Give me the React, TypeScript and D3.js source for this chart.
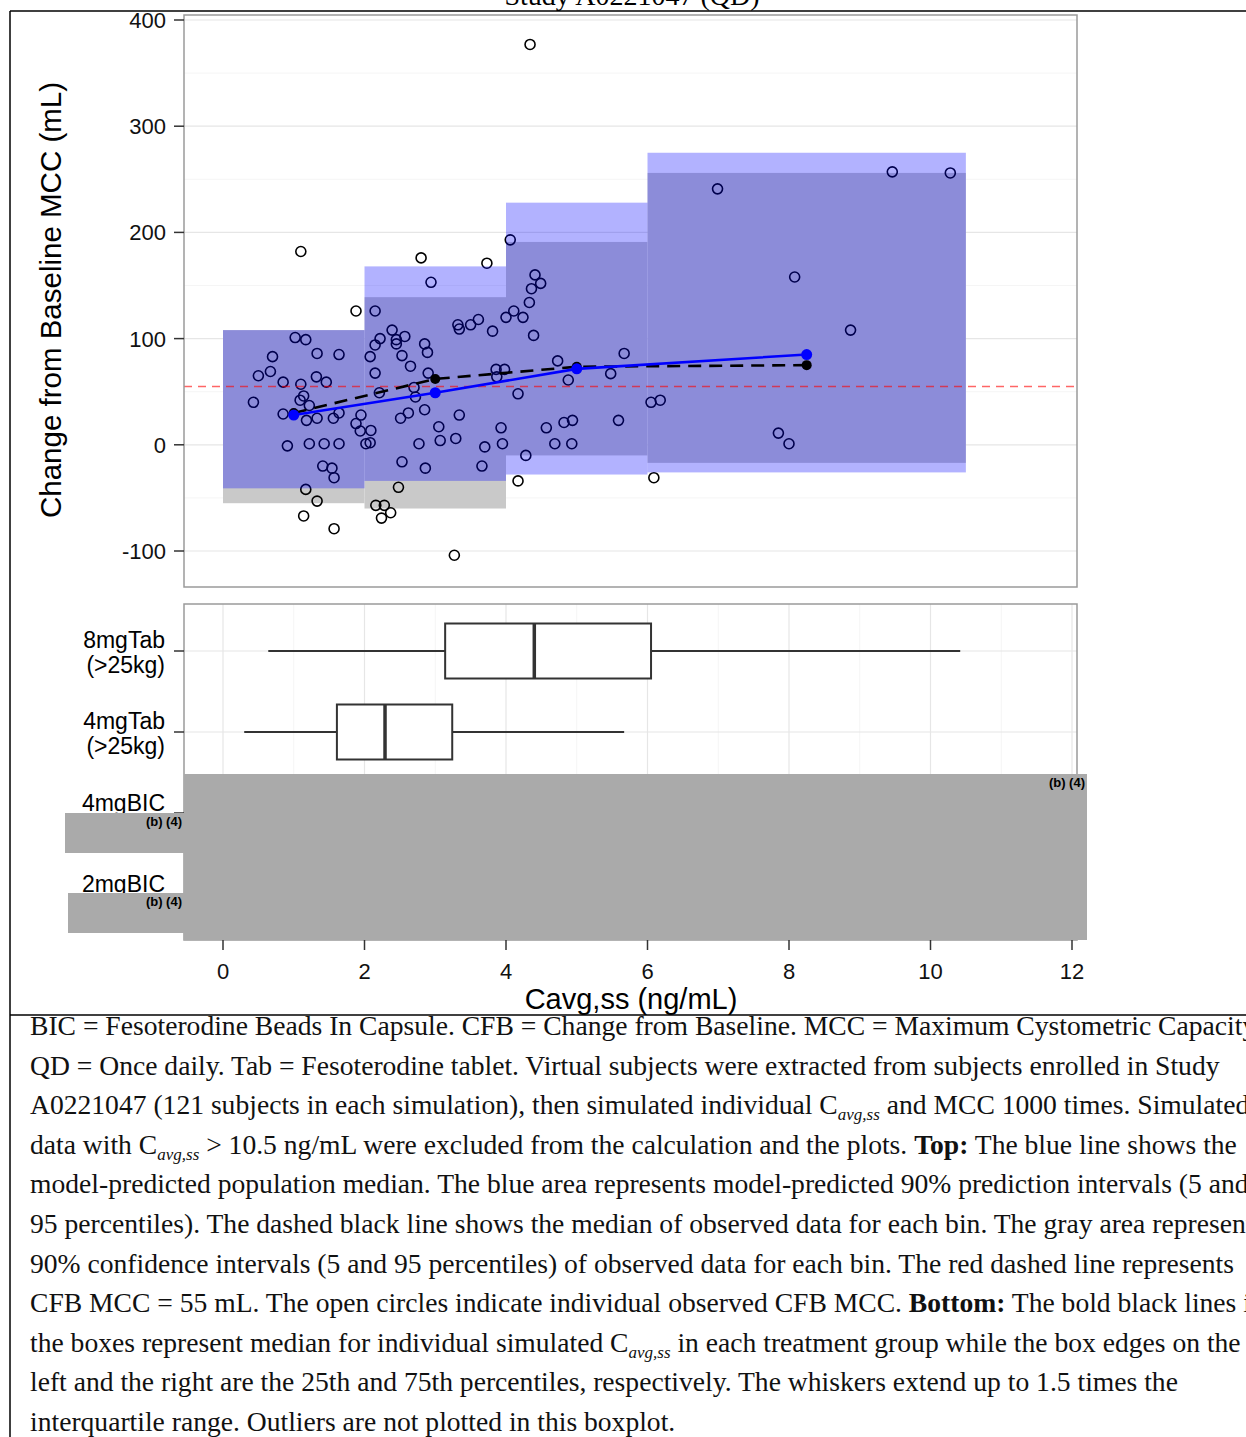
import React from 'react'
import * as d3 from 'd3'

const W = 1246
const H = 1437

// observed change from baseline MCC (mL) against Cavg,ss (ng/mL), one per subject
const obsCavg = [
  0.43, 0.50, 0.67, 0.70, 0.85, 0.85, 0.91, 1.02, 1.17, 1.10, 1.10, 1.14, 1.09, 1.22, 1.18, 1.22,
  1.33, 1.33, 1.32, 1.46, 1.41, 1.54, 1.57, 1.43, 1.56, 1.64, 1.64, 1.64, 1.88, 1.88, 1.94, 1.95,
  2.02, 1.17, 1.33, 1.14, 1.57,
  2.08, 2.09, 2.08, 2.15, 2.15, 2.15, 2.21, 2.22, 2.39, 2.45, 2.45, 2.57, 2.53, 2.85, 2.89, 2.65,
  2.90, 2.70, 2.72, 2.51, 2.62, 2.85, 3.34, 3.05, 2.77, 3.07, 3.29, 2.53, 2.86, 3.66, 3.70, 3.93,
  3.95, 3.86, 3.98, 3.87, 3.32, 3.34, 3.50, 3.61, 3.81, 2.80, 3.73, 2.94, 2.48, 2.16, 2.28, 2.37,
  2.24, 3.27,
  4.00, 4.06, 4.11, 4.24, 4.33, 4.36, 4.49, 4.41, 4.34, 4.39, 4.73, 4.88, 4.17, 4.57, 4.82, 4.94,
  5.59, 4.69, 4.93, 4.28, 4.17, 5.67, 5.48,
  6.05, 6.18, 6.09, 6.99, 9.46, 10.28, 8.08, 8.87, 7.85, 8.0,
]
const obsCfb = [
  40, 65, 69, 83, 59, 29, -1, 101, 99, 182, 57, 46, 42, 37, 23, 1,
  25, 86, 64, 59, -20, -22, -31, 1, 25, 30, 85, 1, 126, 20, 13, 28,
  1, -42, -53, -67, -79,
  83, 13.5, 2, 126, 94, 67.5, 49, 100, 108, 99, 95, 102, 84, 95, 87, 74,
  67.5, 54, 45, 25, 30, 33, 28, 17, 1, 4, 6, -16, -22, -20, -2, 16,
  1, 71, 71, 64, 113, 109, 113, 118, 107, 176, 171, 153, -40, -57, -57, -64,
  -69, -104,
  120, 193, 126, 120, 134, 147, 152, 160, 377, 103, 79, 61, 48, 16, 21, 23,
  23, 1, 1, -10, -34, 86, 67,
  40, 42, -31, 241, 257, 256, 158, 108, 11, 1,
]

const binEdges = [0, 2, 4, 6, 10.5]
const piLow = [-41, -34, -28, -26]
const piHigh = [108, 168, 228, 275]
const ciLow = [-55, -60, -10, -17]
const ciHigh = [108, 139, 191, 256]
const binMid = [1.0, 3.0, 5.0, 8.25]
const predMedian = [28, 49, 71.5, 85]
const obsMedian = [30, 62, 73.5, 75]
const refCfb = 55

const groups = ['8mgTab', '4mgTab', '4mgBIC', '2mgBIC']
const groupSub = ['(>25kg)', '(>25kg)', '', '']
const boxLow = [0.64, 0.30]
const boxQ1 = [3.14, 1.61]
const boxMed = [4.40, 2.29]
const boxQ3 = [6.05, 3.24]
const boxHigh = [10.42, 5.67]

const yTicks = [-100, 0, 100, 200, 300, 400]
const xTicks = [0, 2, 4, 6, 8, 10, 12]

const caption = [
  [['BIC = Fesoterodine Beads In Capsule. CFB = Change from Baseline. MCC = Maximum Cystometric Capacity.', 'n']],
  [['QD = Once daily. Tab = Fesoterodine tablet. Virtual subjects were extracted from subjects enrolled in Study', 'n']],
  [['A0221047 (121 subjects in each simulation), then simulated individual C', 'n'], ['avg,ss', 's'], [' and MCC 1000 times. Simulated', 'n']],
  [['data with C', 'n'], ['avg,ss', 's'], [' > 10.5 ng/mL were excluded from the calculation and the plots. ', 'n'], ['Top:', 'b'], [' The blue line shows the', 'n']],
  [['model-predicted population median. The blue area represents model-predicted 90% prediction intervals (5 and', 'n']],
  [['95 percentiles). The dashed black line shows the median of observed data for each bin. The gray area represents', 'n']],
  [['90% confidence intervals (5 and 95 percentiles) of observed data for each bin. The red dashed line represents', 'n']],
  [['CFB MCC = 55 mL. The open circles indicate individual observed CFB MCC. ', 'n'], ['Bottom:', 'b'], [' The bold black lines in', 'n']],
  [['the boxes represent median for individual simulated C', 'n'], ['avg,ss', 's'], [' in each treatment group while the box edges on the', 'n']],
  [['left and the right are the 25th and 75th percentiles, respectively. The whiskers extend up to 1.5 times the', 'n']],
  [['interquartile range. Outliers are not plotted in this boxplot.', 'n']],
]

const sans = 'Liberation Sans, Arial, sans-serif'
const serif = 'Liberation Serif, Times New Roman, serif'

export default function App() {
  // panels
  const top = { l: 184, r: 1077, t: 15, b: 587 }
  const bot = { l: 184, r: 1077, t: 604, b: 940 }

  const x = d3.scaleLinear().domain([0, 12]).range([223, 1072])
  const y = d3.scaleLinear().domain([-100, 400]).range([551, 20])
  const yb = d3.scalePoint().domain(groups).range([651, 894])

  const minorY = d3.range(-100, 401, 50)
  const lineGen = d3.line<number>().x((d, i) => x(binMid[i])).y(d => y(d))

  return (
    <svg width={W} height={H} style={{ position: 'absolute', left: 0, top: 0, background: '#fff' }}>
      {/* title, cut by the page edge */}
      <text x={632} y={5} textAnchor="middle" fontFamily={serif} fontSize={28}>Study A0221047 (QD)</text>

      {/* ---------- top panel ---------- */}
      <g>
        {minorY.map(v => (
          <line key={v} x1={top.l} x2={top.r} y1={y(v)} y2={y(v)}
            stroke={v % 100 === 0 ? '#e6e6e6' : '#f3f3f3'} strokeWidth={v % 100 === 0 ? 1.2 : 0.8} />
        ))}
        {binEdges.slice(0, -1).map((e, i) => (
          <rect key={'ci' + i} x={x(e)} width={x(binEdges[i + 1]) - x(e)}
            y={y(ciHigh[i])} height={y(ciLow[i]) - y(ciHigh[i])} fill="#c9c9c9" />
        ))}
        {obsCavg.map((c, i) => (
          <circle key={'o' + i} cx={x(c)} cy={y(obsCfb[i])} r={5} fill="none" stroke="#000" strokeWidth={1.6} />
        ))}
        {binEdges.slice(0, -1).map((e, i) => (
          <rect key={'pi' + i} x={x(e)} width={x(binEdges[i + 1]) - x(e)}
            y={y(piHigh[i])} height={y(piLow[i]) - y(piHigh[i])} fill="rgba(0,0,255,0.3)" />
        ))}
        <line x1={top.l} x2={top.r} y1={y(refCfb)} y2={y(refCfb)} stroke="rgba(255,0,0,0.6)"
          strokeWidth={1.5} strokeDasharray="8 6" />
        <path d={lineGen(obsMedian) || ''} fill="none" stroke="#000" strokeWidth={2.6} strokeDasharray="13 8" />
        {obsMedian.map((v, i) => <circle key={'om' + i} cx={x(binMid[i])} cy={y(v)} r={5} fill="#000" />)}
        <path d={lineGen(predMedian) || ''} fill="none" stroke="#0000ff" strokeWidth={2.6} />
        {predMedian.map((v, i) => <circle key={'pm' + i} cx={x(binMid[i])} cy={y(v)} r={5.5} fill="#0000ff" />)}

        <rect x={top.l} y={top.t} width={top.r - top.l} height={top.b - top.t} fill="none" stroke="#9a9a9a" strokeWidth={1.5} />
        {yTicks.map(v => (
          <g key={v}>
            <line x1={174} x2={top.l} y1={y(v)} y2={y(v)} stroke="#333" strokeWidth={1.5} />
            <text x={166} y={y(v) + 8} textAnchor="end" fontFamily={sans} fontSize={22} fill="#111">{v}</text>
          </g>
        ))}
        <text transform={`translate(61,${(top.t + top.b) / 2 - 1}) rotate(-90)`} textAnchor="middle"
          fontFamily={sans} fontSize={29.5}>Change from Baseline MCC (mL)</text>
      </g>

      {/* ---------- bottom panel ---------- */}
      <g>
        {d3.range(0, 13).map(v => (
          <line key={'vg' + v} x1={x(v)} x2={x(v)} y1={bot.t} y2={bot.b}
            stroke={v % 2 === 0 ? '#e6e6e6' : '#f3f3f3'} strokeWidth={v % 2 === 0 ? 1.2 : 0.8} />
        ))}
        {groups.map(g => (
          <line key={'hg' + g} x1={bot.l} x2={bot.r} y1={yb(g)} y2={yb(g)} stroke="#e6e6e6" strokeWidth={1.2} />
        ))}
        {boxQ1.map((q1, i) => {
          const cy = yb(groups[i]) as number
          const hh = 27.5
          return (
            <g key={'box' + i} stroke="#333" strokeWidth={2}>
              <line x1={x(boxLow[i])} x2={x(q1)} y1={cy} y2={cy} />
              <line x1={x(boxQ3[i])} x2={x(boxHigh[i])} y1={cy} y2={cy} />
              <rect x={x(q1)} y={cy - hh} width={x(boxQ3[i]) - x(q1)} height={hh * 2} fill="#fff" />
              <line x1={x(boxMed[i])} x2={x(boxMed[i])} y1={cy - hh} y2={cy + hh} strokeWidth={3.5} />
            </g>
          )
        })}
        <rect x={bot.l} y={bot.t} width={bot.r - bot.l} height={bot.b - bot.t} fill="none" stroke="#9a9a9a" strokeWidth={1.5} />
        {groups.map((g, i) => {
          const cy = yb(g) as number
          return (
            <g key={'lab' + g}>
              <line x1={174} x2={bot.l} y1={cy} y2={cy} stroke="#333" strokeWidth={1.5} />
              {groupSub[i] ? (
                <>
                  <text x={165} y={cy - 3} textAnchor="end" fontFamily={sans} fontSize={23}>{g}</text>
                  <text x={165} y={cy + 22} textAnchor="end" fontFamily={sans} fontSize={23}>{groupSub[i]}</text>
                </>
              ) : (
                <text x={165} y={cy - 2} textAnchor="end" fontFamily={sans} fontSize={23}>{g}</text>
              )}
            </g>
          )
        })}

        {/* redacted regions */}
        <rect x={bot.l} y={774} width={1087 - bot.l} height={bot.b - 774} fill="#aaaaaa" />
        <text x={1085} y={787} textAnchor="end" fontFamily={sans} fontSize={13} fontWeight="bold">(b) (4)</text>
        {[813, 893].map((t, i) => (
          <g key={'red' + i}>
            <rect x={i === 0 ? 65 : 68} y={t} width={bot.l - (i === 0 ? 65 : 68)} height={40} fill="#aaaaaa" />
            <text x={182} y={t + 13} textAnchor="end" fontFamily={sans} fontSize={13} fontWeight="bold">(b) (4)</text>
          </g>
        ))}

        {xTicks.map(v => (
          <g key={'xt' + v}>
            <line x1={x(v)} x2={x(v)} y1={bot.b} y2={bot.b + 10} stroke="#333" strokeWidth={1.5} />
            <text x={x(v)} y={bot.b + 39} textAnchor="middle" fontFamily={sans} fontSize={22} fill="#111">{v}</text>
          </g>
        ))}
        <text x={631} y={1009} textAnchor="middle" fontFamily={sans} fontSize={29}>Cavg,ss (ng/mL)</text>
      </g>

      {/* ---------- caption ---------- */}
      <rect x={10} y={1015} width={W - 10} height={H - 1015} fill="#fff" />
      <g fontFamily={serif} fontSize={27.6} fill="#111">
        {caption.map((segs, i) => (
          <text key={'cap' + i} x={30} y={1035 + i * 39.6} style={{ whiteSpace: 'pre' }}>
            {segs.map(([t, k], j) => {
              const prevSub = j > 0 && segs[j - 1][1] === 's'
              if (k === 's') {
                return <tspan key={j} fontStyle="italic" fontSize={17} dy={6}>{t}</tspan>
              }
              return (
                <tspan key={j} fontWeight={k === 'b' ? 'bold' : 'normal'} dy={prevSub ? -6 : 0}>{t}</tspan>
              )
            })}
          </text>
        ))}
      </g>

      {/* frame */}
      <line x1={10} x2={W} y1={11} y2={11} stroke="#000" strokeWidth={1.5} />
      <line x1={10} x2={10} y1={11} y2={H} stroke="#000" strokeWidth={1.5} />
      <line x1={10} x2={W} y1={1015} y2={1015} stroke="#000" strokeWidth={1.5} />
    </svg>
  )
}
